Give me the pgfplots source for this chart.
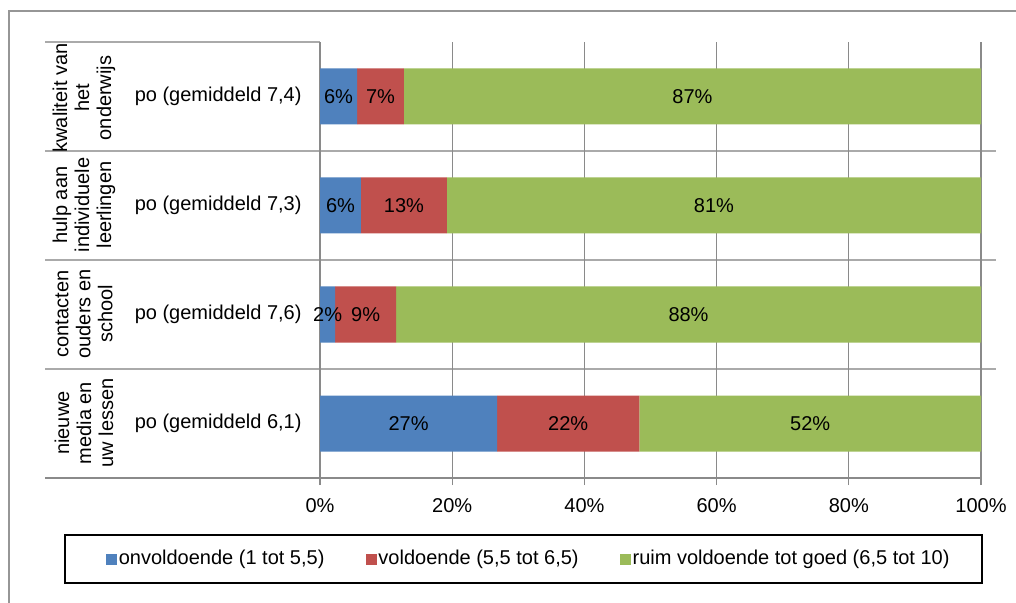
\documentclass[border=0pt]{standalone}
\usepackage{pgfplots}
\pgfplotsset{compat=1.18}
\usepackage{pgfplotstable}
\usepackage{fontspec}
\setmainfont{Liberation Sans}
\definecolor{cblue}{RGB}{79,129,189}
\definecolor{cred}{RGB}{192,80,77}
\definecolor{cgreen}{RGB}{155,187,89}
\definecolor{gridc}{RGB}{138,138,138}
\definecolor{sepc}{RGB}{170,170,170}
\definecolor{framec}{RGB}{150,150,150}

\pgfplotstableread{
y onv vol ruim
3 5.6 7.1 87.3
2 6.2 13.0 80.8
1 2.3 9.2 88.5
0 26.8 21.5 51.7
}\bars

\pgfplotstableread{
x y lab
2.8 3 6
9.15 3 7
56.35 3 87
3.1 2 6
12.7 2 13
59.6 2 81
1.15 1 2
6.9 1 9
55.75 1 88
13.4 0 27
37.55 0 22
74.15 0 52
}\labels

\begin{document}
\begin{tikzpicture}[x=0.5pt,y=-0.5pt]
\useasboundingbox (0,0) rectangle (1016,603);
\draw[framec, line width=0.75pt] (9,603) -- (9,11) -- (1016,11);
\draw[sepc, line width=0.6pt] (45,42) -- (320,42);
\foreach \yy in {151,260,369} \draw[sepc, line width=0.6pt] (45,\yy) -- (996,\yy);
\begin{axis}[
  at={(160pt,-239pt)}, anchor=south west,
  scale only axis, width=330.5pt, height=218pt,
  xmin=0, xmax=100, ymin=-0.5, ymax=3.5,
  xbar stacked, bar width=28pt,
  axis line style={draw=none},
  xmajorgrids, major grid style={gridc, line width=0.6pt},
  xtick={0,20,...,100}, xticklabels={0\%,20\%,40\%,60\%,80\%,100\%},
  xtick pos=bottom, tick align=outside, major tick length=3.5pt,
  xtick style={gridc, line width=0.6pt},
  xticklabel style={yshift=-3pt},
  ytick={0,1,2,3},
  yticklabels={{po (gemiddeld 6,1)},{po (gemiddeld 7,6)},{po (gemiddeld 7,3)},{po (gemiddeld 7,4)}},
  ytick style={draw=none},
  yticklabel style={xshift=-2.2pt},
  legend columns=3,
  legend style={at={(axis description cs:-0.333,-0.186)}, anchor=west, draw=none, fill=none,
    nodes={inner xsep=0.75pt},
    /tikz/every even column/.append style={column sep=20pt}},
  legend image code/.code={\fill[#1] (0pt,-2.75pt) rectangle (5.5pt,2.75pt);},
]
\addplot[fill=cblue, draw=none] table[x=onv, y=y]{\bars};
\addlegendentry{onvoldoende (1 tot 5,5)}
\addplot[fill=cred, draw=none] table[x=vol, y=y]{\bars};
\addlegendentry{voldoende (5,5 tot 6,5)}
\addplot[fill=cgreen, draw=none] table[x=ruim, y=y]{\bars};
\addlegendentry{ruim voldoende tot goed (6,5 tot 10)}
\end{axis}
\begin{axis}[
  at={(160pt,-239pt)}, anchor=south west,
  scale only axis, width=330.5pt, height=218pt,
  xmin=0, xmax=100, ymin=-0.5, ymax=3.5, hide axis]
\addplot[only marks, mark=text, text mark={},
  point meta=explicit symbolic,
  nodes near coords={\pgfplotspointmeta\%},
  every node near coord/.style={anchor=center, text=black}]
  table[x=x, y=y, meta=lab]{\labels};
\end{axis}
\draw[gridc, line width=0.6pt] (45,478) -- (981,478);
\draw[black, line width=0.75pt] (65,535) rectangle (982,583);
\node[rotate=90, align=center, font=\fontsize{10}{11}\selectfont] at (84,98) {kwaliteit van\\het\\onderwijs};
\node[rotate=90, align=center, font=\fontsize{10}{11}\selectfont] at (84,205) {hulp aan\\individuele\\leerlingen};
\node[rotate=90, align=center, font=\fontsize{10}{11}\selectfont] at (84,314) {contacten\\ouders en\\school};
\node[rotate=90, align=center, font=\fontsize{10}{11}\selectfont] at (84,423) {nieuwe\\media en\\uw lessen};
\end{tikzpicture}
\end{document}
